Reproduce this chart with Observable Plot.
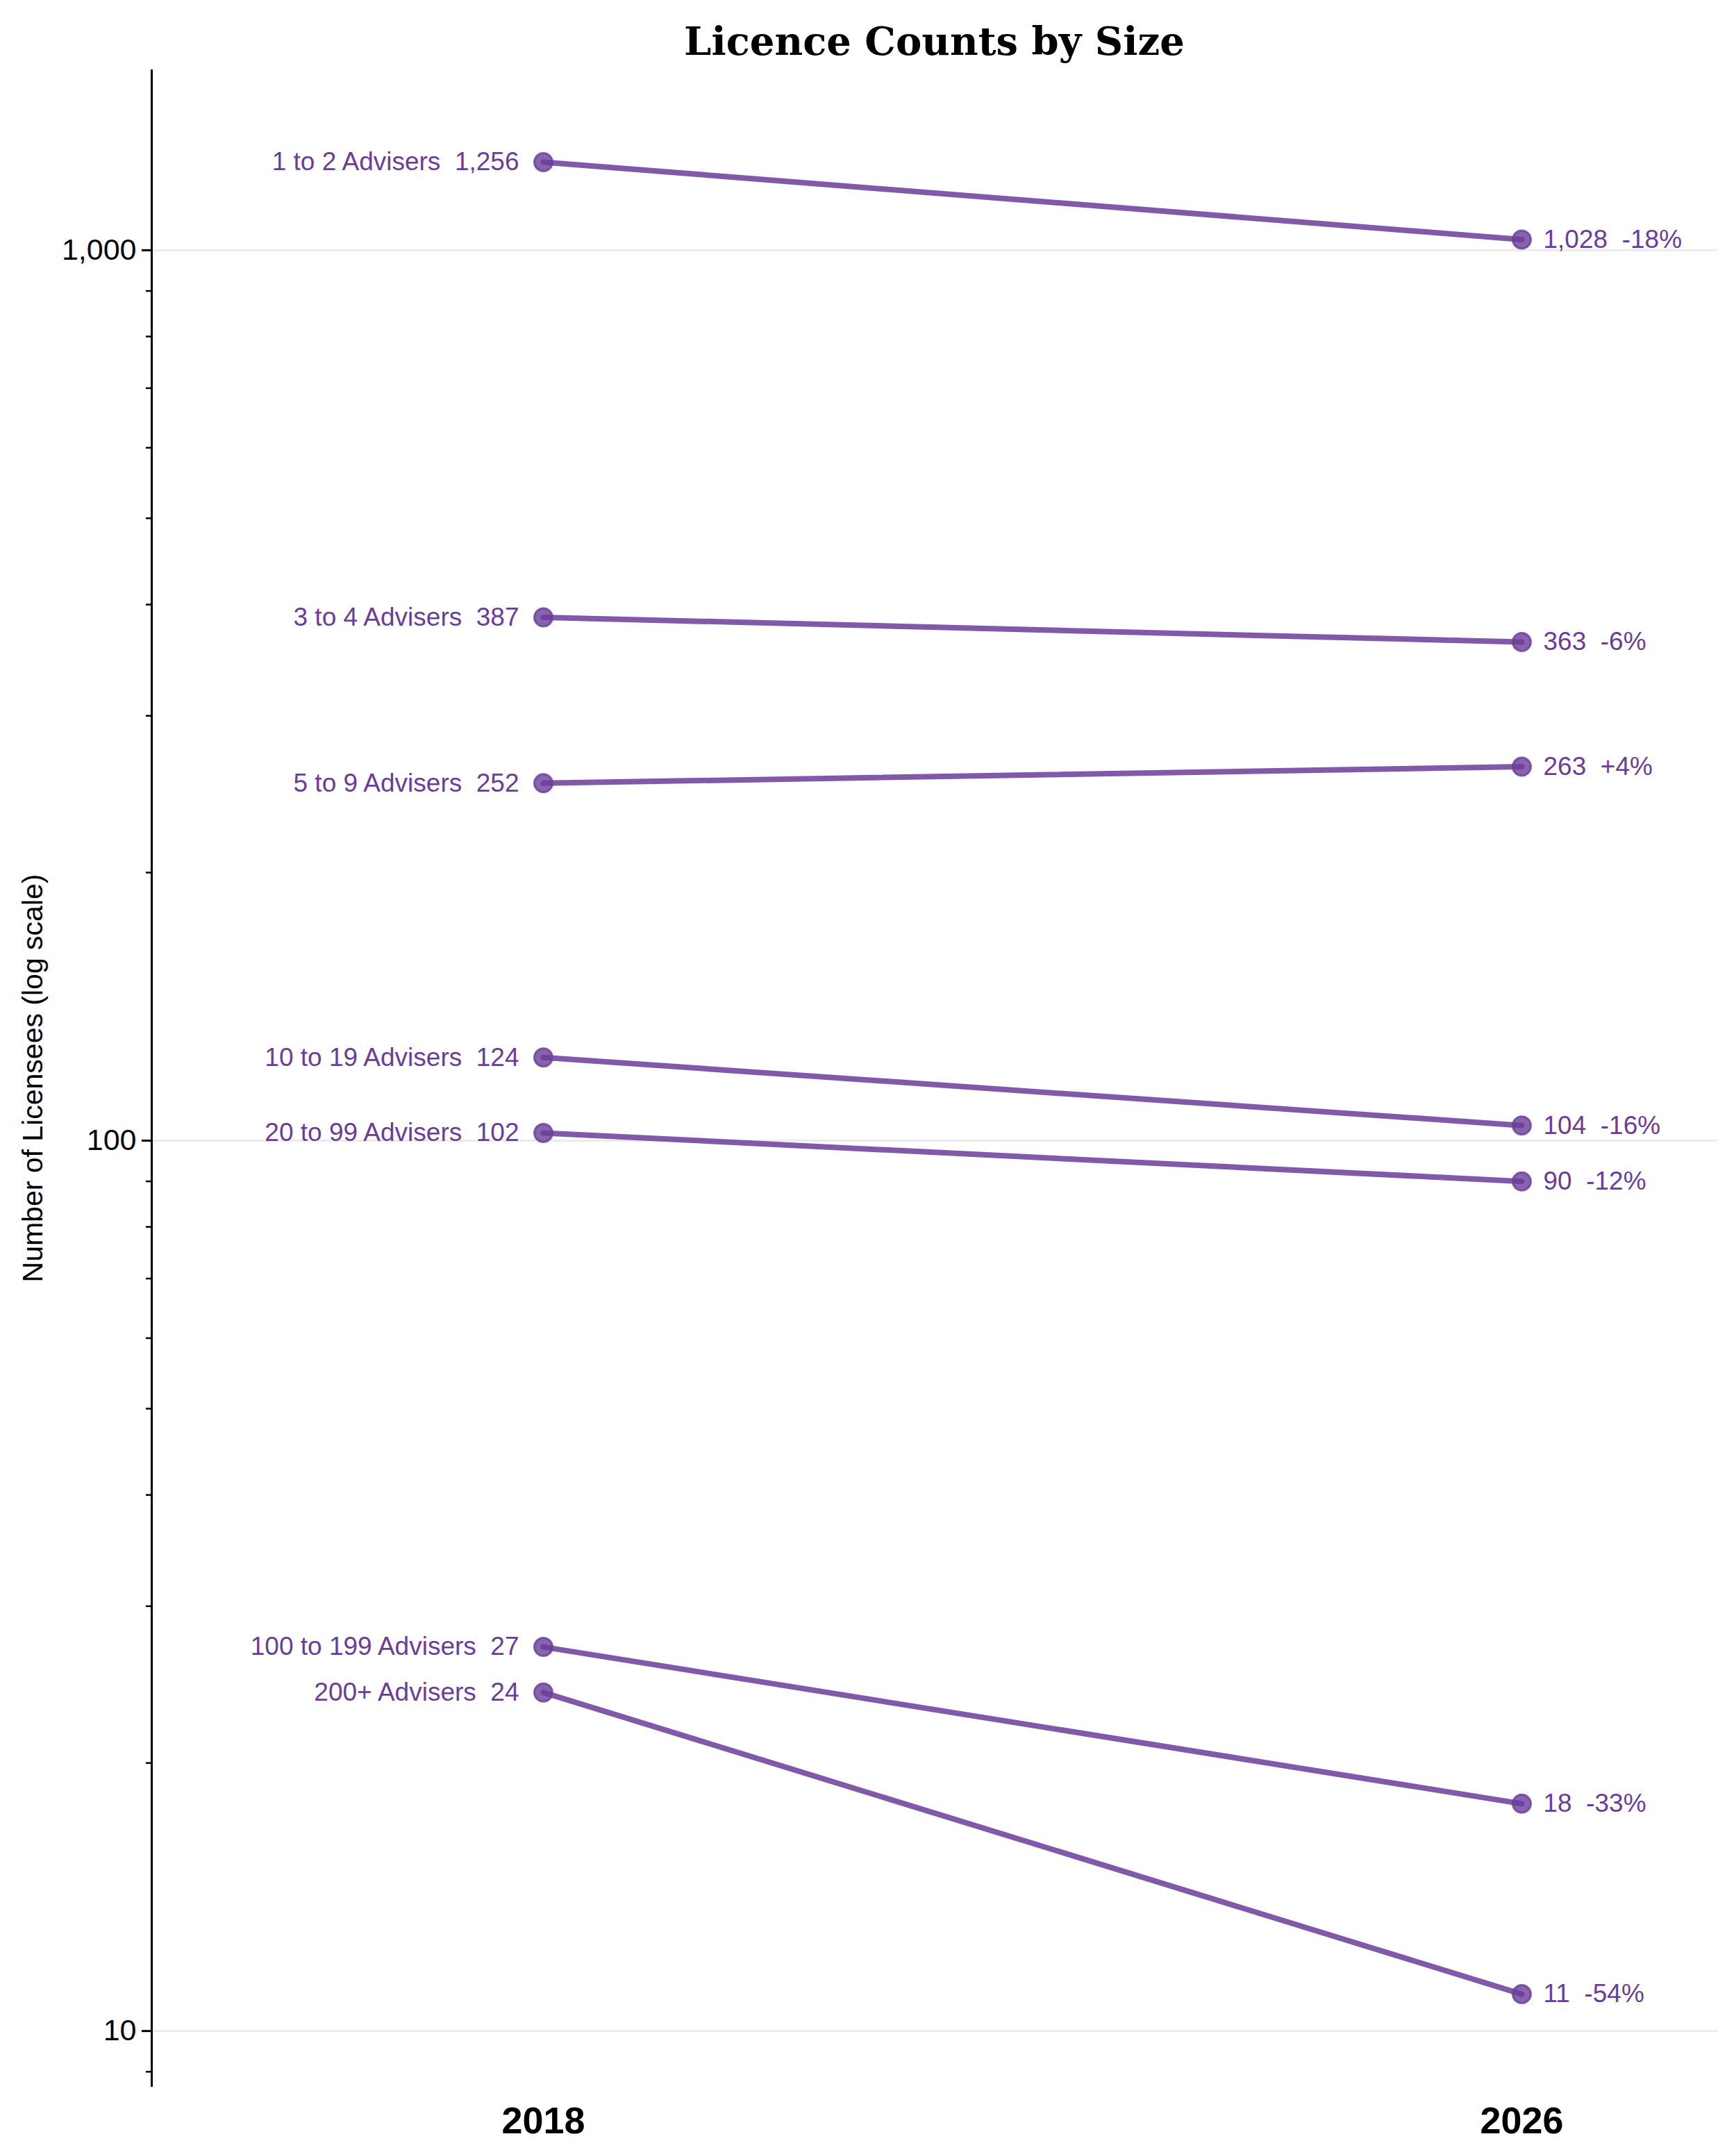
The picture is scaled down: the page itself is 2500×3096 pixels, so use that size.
<!DOCTYPE html>
<html>
<head>
<meta charset="utf-8">
<script src="https://cdn.jsdelivr.net/npm/d3@7"></script>
<script src="https://cdn.jsdelivr.net/npm/@observablehq/plot@0.6"></script>
<style>
  html, body { margin: 0; padding: 0; background: #fff; }
  #title {
    height: 100px; box-sizing: border-box;
    padding-left: 218px; padding-right: 27px; padding-top: 18px;
    display: flex; align-items: center; justify-content: center;
    font-family: "DejaVu Serif", serif; font-weight: bold; font-size: 56px; color: #000;
  }
  svg text { white-space: pre; }
</style>
</head>
<body>
<div id="title">Licence Counts by Size</div>
<div id="chart"></div>
<script>
const categories = ["1 to 2 Advisers", "3 to 4 Advisers", "5 to 9 Advisers", "10 to 19 Advisers", "20 to 99 Advisers", "100 to 199 Advisers", "200+ Advisers"];
const years = ["2018", "2026"];
const values2018 = [1256, 387, 252, 124, 102, 27, 24];
const values2026 = [1028, 363, 263, 104, 90, 18, 11];
const majorTicks = [10, 100, 1000];
const minorTicks = [9, 20, 30, 40, 50, 60, 70, 80, 90, 200, 300, 400, 500, 600, 700, 800, 900];
const yLabel = "Number of Licensees (log scale)";

const fmt = d3.format(",");
const data = [];
categories.forEach((c, i) => {
  data.push({category: c, year: years[0], value: values2018[i]});
  data.push({category: c, year: years[1], value: values2026[i]});
});
const left = categories.map((c, i) => ({category: c, year: years[0], value: values2018[i], label: `${c}  ${fmt(values2018[i])}`}));
const right = categories.map((c, i) => {
  const pct = Math.round((values2026[i] / values2018[i] - 1) * 100);
  return {category: c, year: years[1], value: values2026[i], label: `${fmt(values2026[i])}  ${pct >= 0 ? "+" : ""}${pct}%`};
});

const lo = Math.log10(d3.min(values2026)), hi = Math.log10(d3.max(values2018));
const pad = (hi - lo) * 0.05;

const purple = "#6a3d9a";
const chart = Plot.plot({
  width: 2500,
  height: 2996,
  marginTop: 1,
  marginBottom: 93,
  marginLeft: 218,
  marginRight: 27,
  style: {fontFamily: "'Liberation Sans', Arial, sans-serif", background: "#fff"},
  x: {type: "point", domain: years, padding: 0.3, align: 0.667, label: null},
  y: {type: "log", domain: [Math.pow(10, lo - pad), Math.pow(10, hi + pad)], label: null},
  marks: [
    Plot.gridY(majorTicks, {stroke: "#ebebeb", strokeOpacity: 1, strokeWidth: 3}),
    Plot.frame({anchor: "left", stroke: "#000", strokeWidth: 3}),
    Plot.axisY(minorTicks, {tickSize: 8, strokeWidth: 2.5, text: null, stroke: "#000"}),
    Plot.axisY(majorTicks, {tickSize: 14, strokeWidth: 3, tickPadding: 8, tickFormat: ",", fontSize: 43, fill: "#000", stroke: "#000", label: null}),
    Plot.axisX({tickSize: 0, tickPadding: 30, fontSize: 54, fontWeight: "bold", fill: "#000", label: null}),
    Plot.text([yLabel], {frameAnchor: "left", dx: -171, rotate: -90, fontSize: 41, fill: "#000", textAnchor: "middle", lineAnchor: "middle"}),
    Plot.line(data, {x: "year", y: "value", z: "category", stroke: purple, strokeOpacity: 0.85, strokeWidth: 8}),
    Plot.dot(data, {x: "year", y: "value", r: 13, fill: purple, fillOpacity: 0.8, stroke: purple, strokeOpacity: 0.8, strokeWidth: 3}),
    Plot.text(left, {x: "year", y: "value", text: "label", textAnchor: "end", dx: -35, fontSize: 37, fill: purple, lineAnchor: "middle"}),
    Plot.text(right, {x: "year", y: "value", text: "label", textAnchor: "start", dx: 31, fontSize: 37, fill: purple, lineAnchor: "middle"})
  ]
});
document.getElementById("chart").appendChild(chart);
</script>
</body>
</html>
